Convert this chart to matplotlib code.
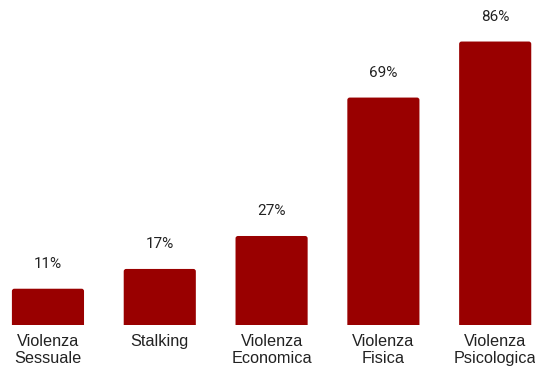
import matplotlib
matplotlib.use("Agg")
import matplotlib.pyplot as plt
from matplotlib.patches import FancyBboxPatch, Rectangle

categories = ["Violenza\nSessuale", "Stalking", "Violenza\nEconomica", "Violenza\nFisica", "Violenza\nPsicologica"]
values = [11, 17, 27, 69, 86]
value_labels = ["11%", "17%", "27%", "69%", "86%"]

bar_color = "#990000"
text_color = "#222222"
plt.rcParams["font.family"] = ["Roboto", "DejaVu Sans"]

fig = plt.figure(figsize=(5.35, 3.67), dpi=100)
ax = fig.add_axes([0, 0, 1, 1])
ax.set_xlim(-0.429, 4.356)
ax.set_ylim(-12.75, 98.6)
ax.axis("off")

width = 0.645
clip = Rectangle((-1, 0), 7, 200, transform=ax.transData)
for i, v in enumerate(values):
    patch = FancyBboxPatch((i - width / 2, -2), width, v + 2,
                           boxstyle="round,pad=0,rounding_size=0.022",
                           mutation_aspect=33.0,
                           facecolor=bar_color, edgecolor="none")
    ax.add_patch(patch)
    patch.set_clip_path(clip)
    ax.annotate(value_labels[i], (i, v), xytext=(0, 25), textcoords="offset pixels",
                ha="center", va="center", fontsize=11, color=text_color)
    ax.annotate(categories[i], (i, 0), xytext=(0, -9), textcoords="offset pixels",
                ha="center", va="top", fontsize=11.7, color=text_color, linespacing=1.15,
                family=["Liberation Sans", "DejaVu Sans"])

fig.savefig("out.png", dpi=100)
